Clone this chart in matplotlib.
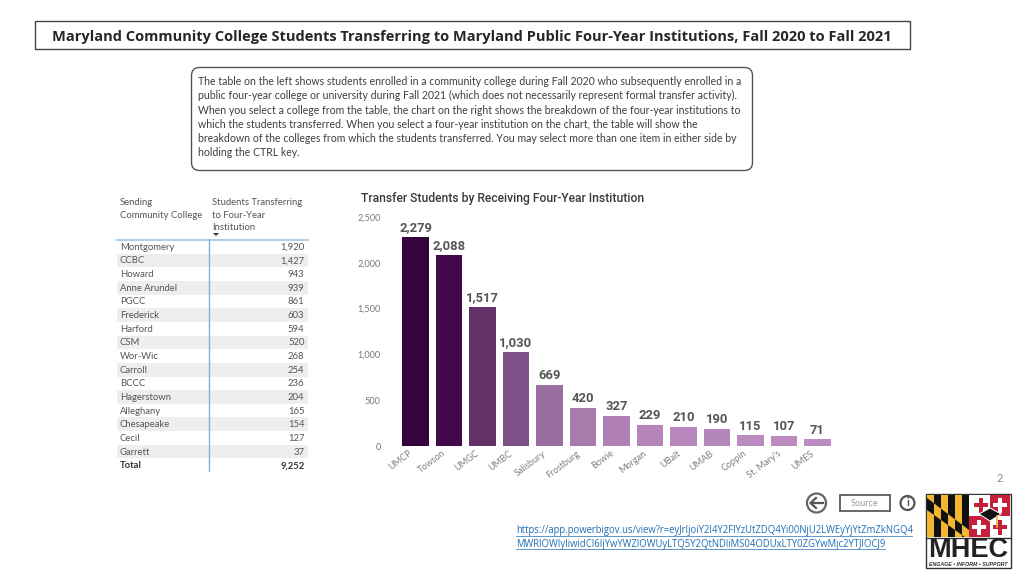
import numpy as np
import matplotlib
matplotlib.use("Agg")
import matplotlib.pyplot as plt
from matplotlib.patches import Rectangle, FancyBboxPatch, Circle, Polygon
from matplotlib.transforms import ScaledTranslation

plt.rcParams['font.family'] = ['Lato', 'DejaVu Sans']

title = "Maryland Community College Students Transferring to Maryland Public Four-Year Institutions, Fall 2020 to Fall 2021"
note_lines = [
    "The table on the left shows students enrolled in a community college during Fall 2020 who subsequently enrolled in a",
    "public four-year college or university during Fall 2021 (which does not necessarily represent formal transfer activity).",
    "When you select a college from the table, the chart on the right shows the breakdown of the four-year institutions to",
    "which the students transferred. When you select a four-year institution on the chart, the table will show the",
    "breakdown of the colleges from which the students transferred. You may select more than one item in either side by",
    "holding the CTRL key.",
]

colleges = ["Montgomery", "CCBC", "Howard", "Anne Arundel", "PGCC", "Frederick", "Harford", "CSM",
            "Wor-Wic", "Carroll", "BCCC", "Hagerstown", "Alleghany", "Chesapeake", "Cecil", "Garrett"]
college_counts = [1920, 1427, 943, 939, 861, 603, 594, 520, 268, 254, 236, 204, 165, 154, 127, 37]
total_count = 9252

institutions = ["UMCP", "Towson", "UMGC", "UMBC", "Salisbury", "Frostburg", "Bowie", "Morgan",
                "UBalt", "UMAB", "Coppin", "St. Mary's", "UMES"]
transfers = [2279, 2088, 1517, 1030, 669, 420, 327, 229, 210, 190, 115, 107, 71]
bar_colors = ["#35043f", "#430a4b", "#633067", "#7f5088", "#9a6ea0", "#a97bab", "#b07fb4", "#b585ba",
              "#b686bc", "#b487ba", "#bb8abf", "#bb8abf", "#bc8cc0"]
y_ticks = [0, 500, 1000, 1500, 2000, 2500]

url_lines = ["https://app.powerbigov.us/view?r=eyJrIjoiY2I4Y2FlYzUtZDQ4Yi00NjU2LWEyYjYtZmZkNGQ4",
             "MWRlOWIyIiwidCI6IjYwYWZlOWUyLTQ5Y2QtNDliMS04ODUxLTY0ZGYwMjc2YTJlOCJ9"]

fig = plt.figure(figsize=(10.24, 5.76), dpi=100, facecolor="white")

# page layer in pixel coordinates
page = fig.add_axes([0, 0, 1, 1])
page.set_xlim(0, 1024)
page.set_ylim(576, 0)
page.axis("off")

page.add_patch(Rectangle((34.5, 20.5), 875, 28, fc="white", ec="#444444", lw=1))
page.text(472, 36.5, title, ha="center", va="center", fontsize=10.5, fontweight="bold", color="#262626",
          family=['Open Sans', 'DejaVu Sans'])

page.add_patch(FancyBboxPatch((191.5, 67.5), 561, 103, boxstyle="round,pad=0,rounding_size=8",
                              fc="white", ec="#555555", lw=1))
for i, line in enumerate(note_lines):
    page.text(198, 81.5 + i * 14.3, line, ha="left", va="center", fontsize=7.6, color="#3f3f3f")

# table
head_font = 6.8
page.text(120, 202.5, "Sending", fontsize=head_font, color="#555555", va="center")
page.text(120, 215, "Community College", fontsize=head_font, color="#555555", va="center")
page.text(212.5, 202.5, "Students Transferring", fontsize=head_font, color="#555555", va="center")
page.text(212.5, 215, "to Four-Year", fontsize=head_font, color="#555555", va="center")
page.text(212.5, 227, "Institution", fontsize=head_font, color="#555555", va="center")
page.add_patch(Polygon([(213, 233), (219, 233), (216, 236)], fc="#333333", ec="none"))

row_h = 13.65
table_top = 240
for i, (name, val) in enumerate(zip(colleges, college_counts)):
    y = table_top + i * row_h
    if i % 2 == 1:
        page.add_patch(Rectangle((117, y), 191, row_h, fc="#eeeeee", ec="none"))
    page.text(120, y + row_h / 2 + 0.5, name, fontsize=head_font, color="#555555", va="center")
    page.text(304.5, y + row_h / 2 + 0.5, f"{val:,}", fontsize=head_font, color="#555555", va="center", ha="right")
y = table_top + len(colleges) * row_h
page.text(120, y + row_h / 2 + 0.5, "Total", fontsize=head_font, color="#333333", va="center", fontweight="bold")
page.text(304.5, y + row_h / 2 + 0.5, f"{total_count:,}", fontsize=head_font, color="#333333", va="center",
          ha="right", fontweight="bold")
page.plot([117, 308], [239.5, 239.5], color="#a5c8ea", lw=1.3)
page.plot([208.5, 208.5], [239, 471], color="#7fb0e0", lw=1)

# chart title
page.text(361, 198.5, "Transfer Students by Receiving Four-Year Institution", fontsize=8.7,
          color="#3a3a3a", va="center", family=['Roboto', 'DejaVu Sans'], fontweight="medium")

# bar chart, axes box placed so 0 sits at y=446 and 2500 at y=217
ax = fig.add_axes([394.7 / 1024, (576 - 446) / 576, 436.9 / 1024, 229 / 576])
x = np.arange(len(institutions))
ax.bar(x, transfers, width=0.8, color=bar_colors)
ax.set_xlim(-0.62, 12.42)
ax.set_ylim(0, 2500)
ax.set_yticks(y_ticks)
ax.set_yticklabels([f"{v:,}" for v in y_ticks], fontsize=6.6, color="#777777")
ax.set_xticks(x)
ax.set_xticklabels(institutions, fontsize=6.6, color="#808080", rotation=37, ha="right", rotation_mode="anchor")
ax.tick_params(length=0, axis="y", pad=10)
ax.tick_params(length=0, axis="x", pad=2)
nudge = ScaledTranslation(-7 / 100, 0, fig.dpi_scale_trans)
for lab in ax.get_xticklabels():
    lab.set_transform(lab.get_transform() + nudge)
for s in ax.spines.values():
    s.set_visible(False)
for xi, v in zip(x, transfers):
    ax.annotate(f"{v:,}", (xi, v), xytext=(0, 2), textcoords="offset points", ha="center", va="bottom",
                fontsize=9.4, fontweight="bold", color="#555555", family=['Roboto', 'DejaVu Sans'])

# page number and nav buttons
page.text(1000, 479, "2", fontsize=8, color="#888888", ha="center", va="center")
page.add_patch(Circle((816.5, 503), 9.5, fc="white", ec="#666666", lw=1.6))
page.plot([811, 823], [503, 503], color="#555555", lw=1.6)
page.plot([816, 810.5, 816], [498, 503, 508], color="#555555", lw=1.6)
page.add_patch(Rectangle((840, 495), 50, 15.5, fc="white", ec="#666666", lw=1.4))
page.text(865, 503, "Source", fontsize=6.6, color="#999999", ha="center", va="center")
page.add_patch(Circle((907.5, 503), 7, fc="white", ec="#555555", lw=1.6))
page.text(907.5, 503, "i", fontsize=8, fontweight="bold", color="#555555", ha="center", va="center")

# url
for i, line in enumerate(url_lines):
    page.text(516, 531 + i * 13, line, fontsize=6.85, color="#1f6fb5", va="center",
              family=['Open Sans', 'DejaVu Sans'])
    page.plot([516, 912 if i == 0 else 885], [535.5 + i * 13] * 2, color="#1f6fb5", lw=0.5)

# logo
page.add_patch(Rectangle((926, 494), 85, 74, fc="white", ec="#333333", lw=1))
page.add_patch(Rectangle((927, 495), 42, 42, fc="#f2b632", ec="none"))
band = Polygon([(927, 498), (969, 530), (969, 540), (927, 510)], fc="none", ec="none")
page.add_patch(band)
for k, bx in enumerate(np.arange(927, 969, 7)):
    col = "#111111" if k % 2 else "#f2b632"
    alt = "#f2b632" if k % 2 else "#111111"
    page.add_patch(Rectangle((bx, 495), 7, 42, fc=col, ec="none"))
    piece = Rectangle((bx, 495), 7, 42, fc=alt, ec="none")
    page.add_patch(piece)
    piece.set_clip_path(band)
page.add_patch(Rectangle((969, 495), 41, 42, fc="white", ec="none"))
page.add_patch(Rectangle((990, 495), 20, 21, fc="#c4203c", ec="none"))
page.add_patch(Rectangle((969, 516), 21, 21, fc="#c4203c", ec="none"))
page.add_patch(Rectangle((998, 498), 4, 15, fc="white", ec="none"))
page.add_patch(Rectangle((993, 503), 14, 4, fc="white", ec="none"))
page.add_patch(Rectangle((977, 520), 4, 15, fc="white", ec="none"))
page.add_patch(Rectangle((972, 525), 14, 4, fc="white", ec="none"))
page.add_patch(Rectangle((979, 498), 4, 15, fc="#c4203c", ec="none"))
page.add_patch(Rectangle((974, 503), 14, 4, fc="#c4203c", ec="none"))
page.add_patch(Rectangle((998, 520), 4, 15, fc="#c4203c", ec="none"))
page.add_patch(Rectangle((993, 525), 14, 4, fc="#c4203c", ec="none"))
page.add_patch(Polygon([(979, 514), (990, 508), (1001, 514), (990, 521)], fc="#111111", ec="white", lw=0.7))
page.plot([997, 997], [516, 527], color="#f2b632", lw=1.2)
page.plot([926, 1011], [537.5, 537.5], color="#333333", lw=1)
page.text(968.5, 550, "MHEC", fontsize=19.5, fontweight="bold", color="#222222", ha="center", va="center",
          family=['Liberation Sans', 'DejaVu Sans'])
page.text(968.5, 565, "ENGAGE \u2022 INFORM \u2022 SUPPORT", fontsize=3.8, fontweight="bold", style="italic",
          color="#333333", ha="center", va="center", family=['Liberation Sans', 'DejaVu Sans'])

fig.savefig("out.png", dpi=100)
